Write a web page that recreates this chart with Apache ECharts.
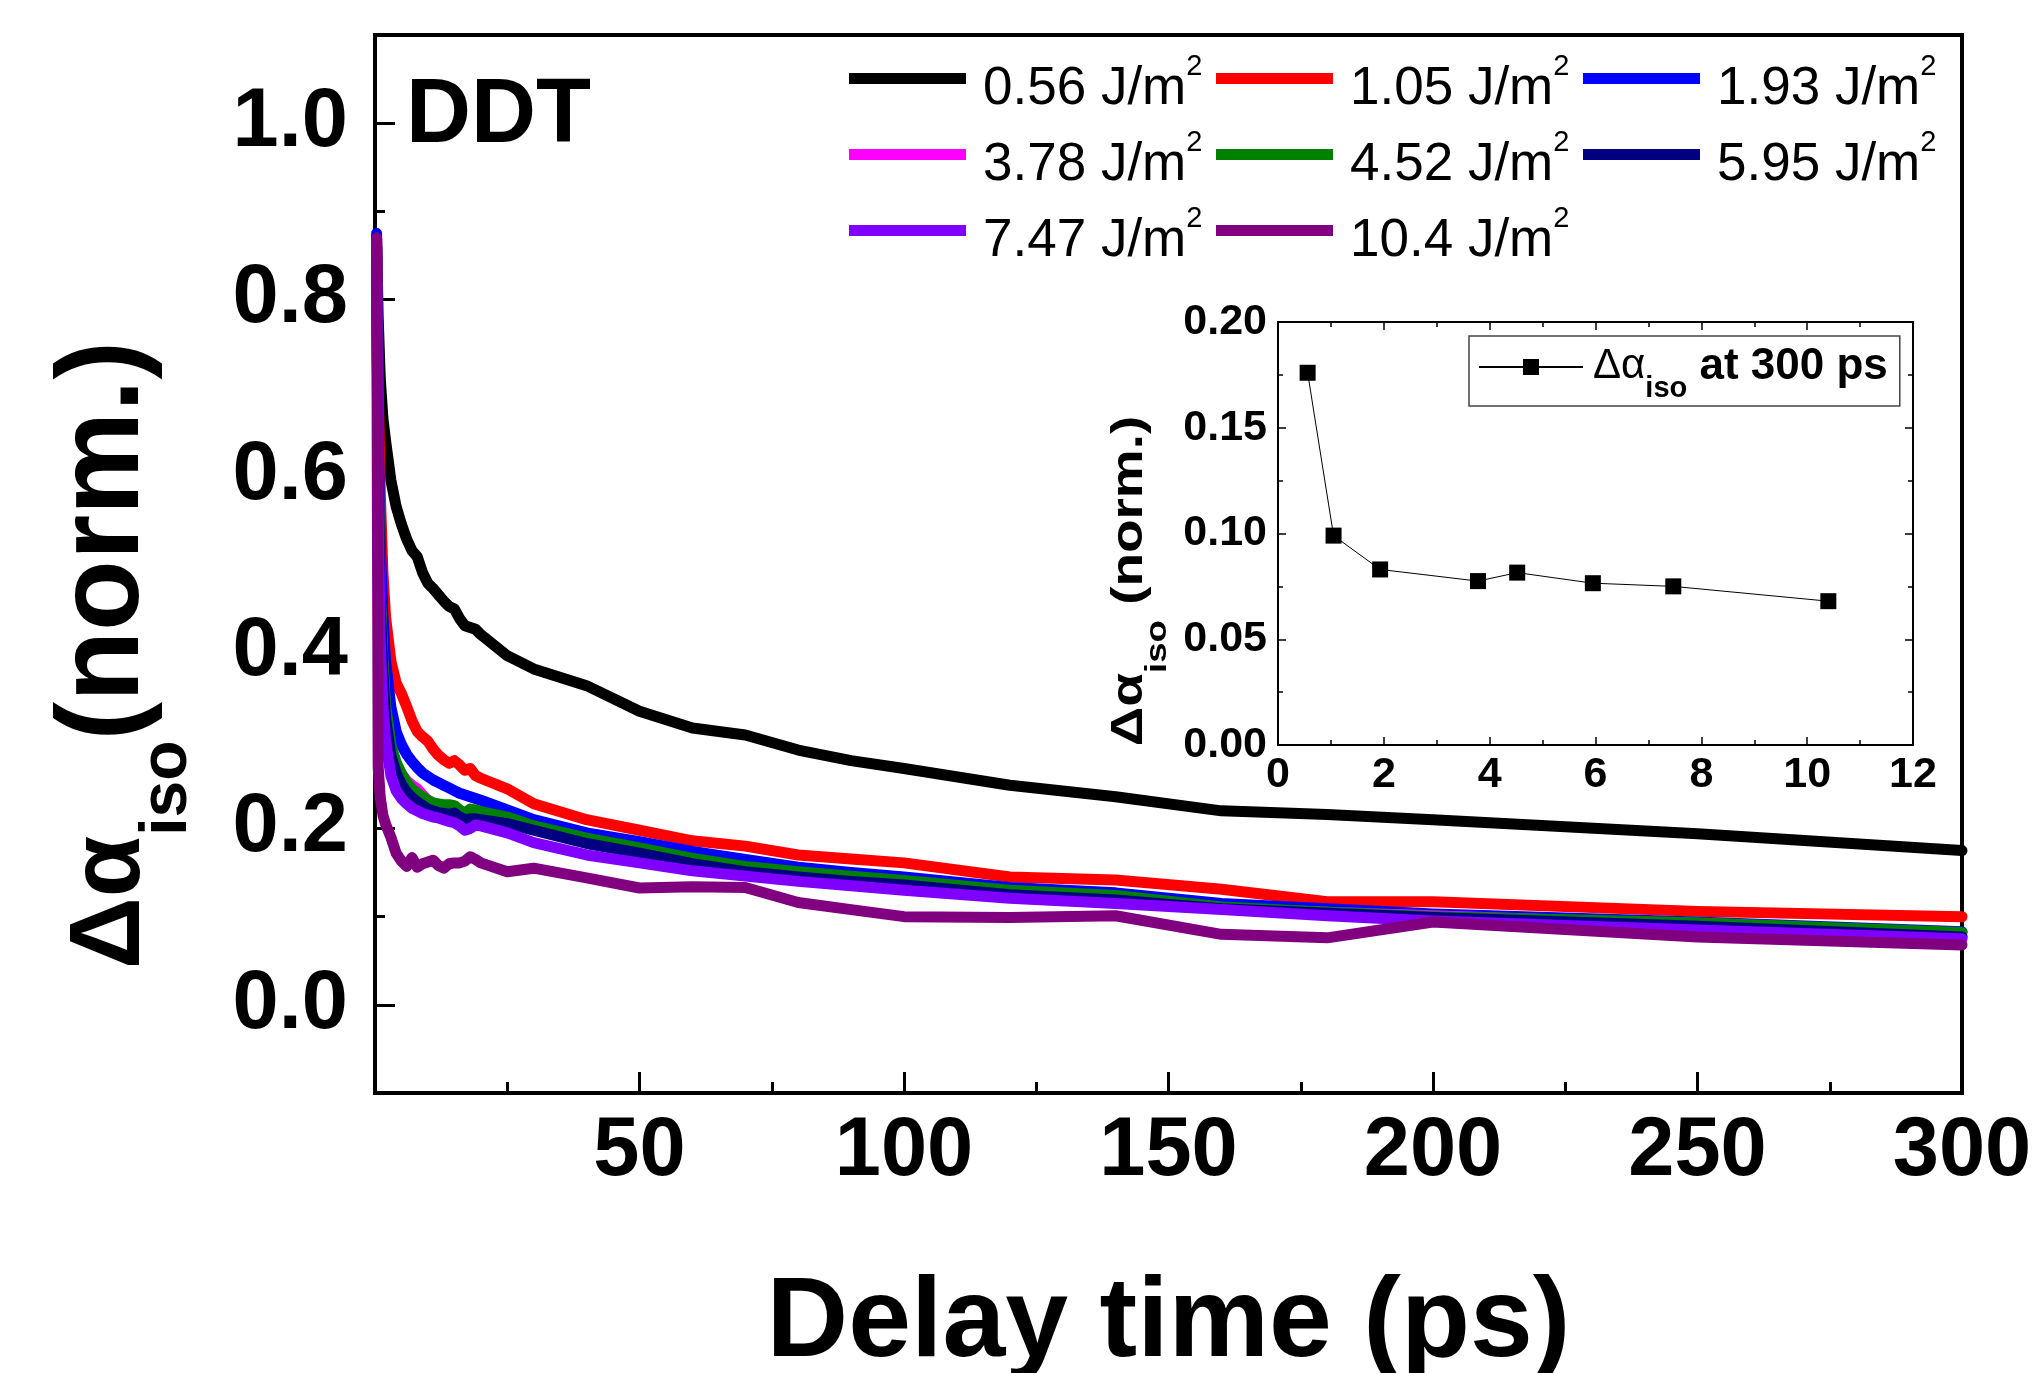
<!DOCTYPE html>
<html>
<head>
<meta charset="utf-8">
<script src="https://cdn.jsdelivr.net/npm/echarts@6/dist/echarts.min.js"></script>
<style>
html,body{margin:0;padding:0;background:#fff;}
#chart{width:2036px;height:1373px;}
</style>
</head>
<body>
<div id="chart"></div>
<script>
// ---------------- data ----------------
const FLUENCES = ['0.56', '1.05', '1.93', '3.78', '4.52', '5.95', '7.47', '10.4'];
const COLORS = ['#000000', '#FF0000', '#0000FF', '#FF00FF', '#008000', '#000080', '#8000FF', '#800080'];

const TIME = [0.3, 0.6, 1, 1.5, 2, 3, 4, 5, 6, 7, 8, 9, 10, 11, 12, 13, 14, 15, 16, 17, 18, 19, 20,
  25, 30, 40, 50, 60, 70, 80, 90, 100, 120, 140, 160, 180, 200, 250, 300];

const V_056 = [0.87, 0.78, 0.71, 0.665, 0.64, 0.595, 0.565, 0.545, 0.528, 0.515, 0.508, 0.49, 0.478, 0.472, 0.465, 0.458, 0.452, 0.449, 0.438, 0.43, 0.428, 0.426, 0.42,
  0.396, 0.381, 0.362, 0.333, 0.314, 0.306, 0.289, 0.277, 0.268, 0.249, 0.236, 0.220, 0.216, 0.210, 0.194, 0.175];
const V_105 = [0.87, 0.70, 0.58, 0.49, 0.44, 0.39, 0.365, 0.353, 0.338, 0.322, 0.31, 0.304, 0.299, 0.29, 0.283, 0.278, 0.274, 0.277, 0.272, 0.266, 0.268, 0.26, 0.257,
  0.245, 0.228, 0.21, 0.198, 0.186, 0.18, 0.17, 0.1655, 0.161, 0.145, 0.1415, 0.131, 0.117, 0.117, 0.106, 0.100];
const V_193 = [0.875, 0.65, 0.52, 0.44, 0.39, 0.338, 0.31, 0.295, 0.284, 0.276, 0.269, 0.263, 0.259, 0.255, 0.252, 0.249, 0.246, 0.243, 0.240, 0.238, 0.236, 0.234, 0.232,
  0.221, 0.21, 0.195, 0.185, 0.174, 0.165, 0.156, 0.150, 0.145, 0.133, 0.127, 0.115, 0.109, 0.103, 0.094, 0.083];
const V_378 = [0.86, 0.61, 0.46, 0.385, 0.335, 0.292, 0.273, 0.262, 0.254, 0.249, 0.245, 0.238, 0.232, 0.228, 0.226, 0.224, 0.222, 0.22, 0.217, 0.214, 0.216, 0.215, 0.213,
  0.207, 0.199, 0.186, 0.175, 0.163, 0.154, 0.148, 0.142, 0.137, 0.127, 0.121, 0.110, 0.105, 0.101, 0.091, 0.078];
const V_452 = [0.86, 0.62, 0.47, 0.39, 0.34, 0.295, 0.275, 0.262, 0.252, 0.245, 0.24, 0.236, 0.232, 0.229, 0.228, 0.227, 0.227, 0.226, 0.221, 0.2175, 0.222, 0.221, 0.219,
  0.213, 0.203, 0.189, 0.178, 0.166, 0.157, 0.151, 0.146, 0.141, 0.130, 0.124, 0.111, 0.105, 0.100, 0.093, 0.082];
const V_595 = [0.86, 0.60, 0.45, 0.375, 0.325, 0.283, 0.263, 0.25, 0.241, 0.235, 0.23, 0.226, 0.222, 0.22, 0.218, 0.217, 0.216, 0.2175, 0.213, 0.21, 0.211, 0.211, 0.21,
  0.2055, 0.198, 0.183, 0.172, 0.16, 0.151, 0.145, 0.140, 0.136, 0.125, 0.119, 0.109, 0.104, 0.099, 0.089, 0.077];
const V_747 = [0.86, 0.56, 0.41, 0.34, 0.30, 0.26, 0.243, 0.234, 0.228, 0.223, 0.22, 0.217, 0.215, 0.213, 0.212, 0.21, 0.208, 0.2065, 0.203, 0.198, 0.2, 0.204, 0.203,
  0.195, 0.184, 0.170, 0.161, 0.152, 0.146, 0.140, 0.135, 0.130, 0.121, 0.115, 0.108, 0.101, 0.095, 0.085, 0.075];
const V_104 = [0.87, 0.27, 0.235, 0.215, 0.205, 0.19, 0.172, 0.163, 0.157, 0.167, 0.156, 0.16, 0.162, 0.164, 0.158, 0.155, 0.16, 0.161, 0.161, 0.163, 0.168, 0.165, 0.161,
  0.151, 0.155, 0.144, 0.1325, 0.134, 0.133, 0.116, 0.108, 0.100, 0.099, 0.101, 0.080, 0.076, 0.094, 0.077, 0.068];
const SERIES_VALUES = [V_056, V_105, V_193, V_378, V_452, V_595, V_747, V_104];

// inset: value at 300 ps vs fluence
const INSET_X = [0.56, 1.05, 1.93, 3.78, 4.52, 5.95, 7.47, 10.4];
const INSET_Y = [0.176, 0.099, 0.083, 0.0775, 0.0815, 0.0765, 0.075, 0.068];

// tick values
const Y_MAJOR = [0, 0.2, 0.4, 0.6, 0.8, 1.0];
const Y_MINOR = [0.1, 0.3, 0.5, 0.7, 0.9];

// ---------------- chart ----------------
const FONT = '"Liberation Sans", Arial, Helvetica, sans-serif';
const NAMES = FLUENCES.map(f => f + ' J/m²');
const INSET_NAME = 'Δα_iso at 300 ps';

const mainSeries = SERIES_VALUES.map((vals, i) => ({
  name: NAMES[i],
  type: 'line',
  xAxisIndex: 0,
  yAxisIndex: 0,
  data: TIME.map((t, k) => [t, vals[k]]),
  symbol: 'none',
  showSymbol: false,
  color: COLORS[i],
  itemStyle: { color: COLORS[i] },
  lineStyle: { color: COLORS[i], width: 11, join: 'round', cap: 'round' },
  z: 2 + i
}));

const insetSeries = {
  name: INSET_NAME,
  type: 'line',
  xAxisIndex: 1,
  yAxisIndex: 2,
  data: INSET_X.map((x, k) => [x, INSET_Y[k]]),
  symbol: 'rect',
  symbolSize: 16,
  color: '#000',
  itemStyle: { color: '#000' },
  lineStyle: { color: '#000', width: 1 },
  z: 20
};

const legendRich = {
  n: { fontFamily: FONT, fontSize: 53, lineHeight: 53, color: '#000', verticalAlign: 'top', padding: [11, 0, 11, 12] },
  sup: { fontFamily: FONT, fontSize: 29, lineHeight: 29, color: '#000', verticalAlign: 'top' }
};
function legendFmt(name) { return '{n|' + name.replace('²', '') + '}{sup|2}'; }
function mainLegend(idx, left) {
  return {
    data: idx.map(i => NAMES[i]),
    orient: 'vertical',
    left: left, top: 52,
    padding: 0,
    itemGap: 1,
    itemWidth: 117, itemHeight: 11,
    icon: 'rect',
    selectedMode: false,
    formatter: legendFmt,
    textStyle: { rich: legendRich, color: '#000' }
  };
}

const tickLine = w => ({ color: '#000', width: w });

const option = {
  animation: false,
  backgroundColor: '#fff',
  title: {
    text: 'DDT', left: 406, top: 72, padding: 0,
    textStyle: { fontFamily: FONT, fontSize: 90, fontWeight: 'bold', color: '#000' }
  },
  grid: [
    { left: 375, top: 35, width: 1587, height: 1058, outerBoundsMode: 'none', containLabel: false,
      show: true, borderColor: '#000', borderWidth: 4, backgroundColor: 'transparent' },
    { left: 1278, top: 322, width: 635, height: 423, outerBoundsMode: 'none', containLabel: false,
      show: true, borderColor: '#000', borderWidth: 2, backgroundColor: '#fff', z: 5 }
  ],
  xAxis: [
    {
      gridIndex: 0, type: 'value', min: 0, max: 300, interval: 50, position: 'bottom',
      axisLine: { show: true, onZero: false, lineStyle: tickLine(4) },
      axisTick: { show: true, inside: true, length: 21, lineStyle: tickLine(3) },
      minorTick: { show: true, splitNumber: 2, length: 11, lineStyle: tickLine(3) },
      axisLabel: { margin: 18, fontFamily: FONT, fontSize: 83, fontWeight: 'bold', color: '#000',
        formatter: v => (v === 0 ? '' : String(v)) },
      splitLine: { show: false }, minorSplitLine: { show: false },
      name: 'Delay time (ps)', nameLocation: 'middle', nameGap: 175,
      nameTextStyle: { fontFamily: FONT, fontSize: 113, fontWeight: 'bold', color: '#000' }
    },
    {
      gridIndex: 1, type: 'value', min: 0, max: 12, interval: 2, position: 'bottom',
      axisLine: { show: true, onZero: false, lineStyle: tickLine(2) },
      axisTick: { show: true, inside: true, length: 8, lineStyle: tickLine(1.5) },
      minorTick: { show: true, splitNumber: 2, length: 5, lineStyle: tickLine(1.5) },
      axisLabel: { margin: 9, fontFamily: FONT, fontSize: 43, fontWeight: 'bold', color: '#000' },
      splitLine: { show: false }, z: 6
    },
    {
      gridIndex: 1, type: 'value', min: 0, max: 12, interval: 2, position: 'top',
      axisLine: { show: true, onZero: false, lineStyle: tickLine(2) },
      axisTick: { show: true, inside: true, length: 8, lineStyle: tickLine(1.5) },
      minorTick: { show: true, splitNumber: 2, length: 5, lineStyle: tickLine(1.5) },
      axisLabel: { show: false },
      splitLine: { show: false }, z: 6
    }
  ],
  yAxis: [
    {
      gridIndex: 0, type: 'value', min: -0.1, max: 1.1, interval: 0.1, position: 'left',
      axisLine: { show: true, onZero: false, lineStyle: tickLine(4) },
      axisTick: { show: true, inside: true, length: 20, customValues: Y_MAJOR, lineStyle: tickLine(3) },
      axisLabel: { customValues: Y_MAJOR, margin: 27, fontFamily: FONT, fontSize: 83, fontWeight: 'bold', color: '#000',
        formatter: v => Number(v).toFixed(1) },
      splitLine: { show: false }
    },
    {
      gridIndex: 0, type: 'value', min: -0.1, max: 1.1, interval: 0.1, position: 'left',
      axisLine: { show: false },
      axisTick: { show: true, inside: true, length: 10, customValues: Y_MINOR, lineStyle: tickLine(3) },
      axisLabel: { show: false },
      splitLine: { show: false }
    },
    {
      gridIndex: 1, type: 'value', min: 0, max: 0.2, interval: 0.05, position: 'left',
      axisLine: { show: true, onZero: false, lineStyle: tickLine(2) },
      axisTick: { show: true, inside: true, length: 8, lineStyle: tickLine(1.5) },
      minorTick: { show: true, splitNumber: 2, length: 5, lineStyle: tickLine(1.5) },
      axisLabel: { margin: 11, fontFamily: FONT, fontSize: 43, fontWeight: 'bold', color: '#000',
        formatter: v => Number(v).toFixed(2) },
      splitLine: { show: false }, z: 6
    },
    {
      gridIndex: 1, type: 'value', min: 0, max: 0.2, interval: 0.05, position: 'right',
      axisLine: { show: true, onZero: false, lineStyle: tickLine(2) },
      axisTick: { show: true, inside: true, length: 8, lineStyle: tickLine(1.5) },
      minorTick: { show: true, splitNumber: 2, length: 5, lineStyle: tickLine(1.5) },
      axisLabel: { show: false },
      splitLine: { show: false }, z: 6
    }
  ],
  legend: [
    mainLegend([0, 3, 6], 849),
    mainLegend([1, 4, 7], 1216),
    mainLegend([2, 5], 1583),
    {
      data: [INSET_NAME],
      left: 1469, top: 336,
      padding: [9, 12, 3, 9],
      borderColor: '#444', borderWidth: 1.5, backgroundColor: '#fff',
      itemWidth: 104, itemHeight: 20,
      selectedMode: false,
      z: 30,
      formatter: () => '{d|Δα}{s|iso}{b| at 300 ps}',
      textStyle: {
        color: '#000',
        rich: {
          d: { fontFamily: FONT, fontSize: 42, lineHeight: 44, color: '#000', verticalAlign: 'top', padding: [0, 0, 0, 5] },
          s: { fontFamily: FONT, fontSize: 29, fontWeight: 'bold', lineHeight: 29, color: '#000', verticalAlign: 'top', padding: [29, 0, 0, 0] },
          b: { fontFamily: FONT, fontSize: 44, fontWeight: 'bold', lineHeight: 44, color: '#000', verticalAlign: 'top' }
        }
      }
    }
  ],
  graphic: [
    {
      type: 'text', x: 106, y: 655, rotation: Math.PI / 2, z: 50,
      style: {
        text: '{g|Δα}{s|iso}{b|(norm.)}',
        align: 'center', verticalAlign: 'middle', fill: '#000',
        rich: {
          g: { fontFamily: FONT, fontSize: 100, fontWeight: 'bold', lineHeight: 100, padding: [13.5, 0, 0, 0], verticalAlign: 'top', fill: '#000' },
          s: { fontFamily: FONT, fontSize: 66, fontWeight: 'bold', lineHeight: 66, padding: [87, 0, 0, 0], verticalAlign: 'top', fill: '#000' },
          b: { fontFamily: FONT, fontSize: 116, fontWeight: 'bold', lineHeight: 116, verticalAlign: 'top', fill: '#000' }
        }
      }
    },
    {
      type: 'text', x: 1130, y: 581, rotation: Math.PI / 2, scaleX: 1.22, z: 50,
      style: {
        text: '{m|Δα}{s|iso}{m| (norm.)}',
        align: 'center', verticalAlign: 'middle', fill: '#000',
        rich: {
          m: { fontFamily: FONT, fontSize: 45, fontWeight: 'bold', lineHeight: 45, verticalAlign: 'top', fill: '#000' },
          s: { fontFamily: FONT, fontSize: 30, fontWeight: 'bold', lineHeight: 30, padding: [35, 0, 0, 0], verticalAlign: 'top', fill: '#000' }
        }
      }
    }
  ],
  series: mainSeries.concat([insetSeries])
};

const chart = echarts.init(document.getElementById('chart'), null, { renderer: 'canvas' });
chart.setOption(option);
</script>
</body>
</html>
